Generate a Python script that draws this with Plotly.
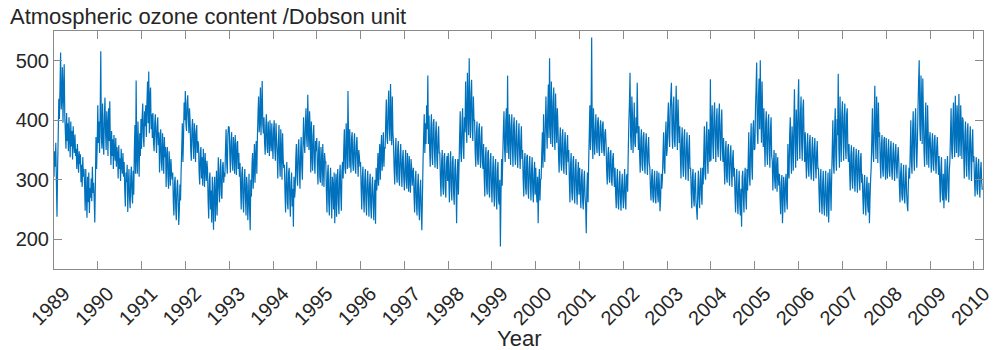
import datetime as dt
import plotly.graph_objects as go

# Ozone values (Dobson units), sampled every 5 days from 1 January of each year
y1989 = [305, 348, 322, 362, 296, 238, 318, 372, 436, 402, 455, 514, 418, 440, 489, 396, 452, 494, 408,
         378, 352, 412, 365, 395, 348, 405, 372, 338, 398, 356, 382, 334, 390, 362, 345, 376, 340,
         352, 318, 360, 334, 312, 348, 326, 343, 296, 325, 288, 338, 305, 318,
         292, 248, 318, 272, 236, 305, 262, 312, 244, 286, 270, 302, 264, 322, 278, 295, 268, 228, 292, 372, 318, 355]
y1990 = [425, 362, 398, 345, 410, 516, 372, 352, 428, 366, 342, 405, 438, 378, 350, 415, 392, 340, 420, 365, 432,
         358, 325, 382, 340, 368, 318, 375, 348, 332, 370, 322, 355, 342, 302, 358, 318, 336, 298, 352, 325, 310, 345, 305,
         330, 282, 255, 312, 296, 325, 246, 290, 318, 268, 252, 305, 322, 275, 260,
         315, 275, 352, 392, 310, 467, 335, 310, 398, 352, 305, 378, 340, 402]
y1991 = [352, 405, 428, 372, 355, 415, 390, 425, 372, 430, 465, 395, 482, 378, 440, 455, 385, 410, 370,
         412, 362, 348, 395, 410, 372, 345, 388, 405, 358, 380, 312, 365, 385, 330, 315, 378, 348, 310, 372, 338, 355,
         288, 340, 355, 305, 285, 348, 322, 290, 335, 312, 300,
         312, 262, 240, 295, 305, 252, 232, 285, 300, 270, 224, 248, 292, 265, 315, 352, 395, 330, 372, 430, 400]
y1992 = [449, 395, 382, 430, 442, 405, 378, 420, 398, 350, 332, 385, 402, 362, 335, 395, 372, 330, 380, 392, 345, 365,
         360, 312, 292, 345, 355, 302, 338, 290, 352, 325, 288, 345, 318, 298, 332,
         318, 265, 235, 298, 312, 250, 282, 228, 305, 260, 216, 290, 305, 230, 268, 315, 240, 285,
         338, 290, 262, 318, 335, 275, 268, 322, 330, 295, 312, 305, 352, 385, 328, 310, 375, 390]
y1993 = [388, 342, 312, 365, 380, 330, 315, 372, 352, 310, 375, 340, 308, 362, 365, 318, 345, 305,
         328, 285, 250, 310, 322, 265, 245, 298, 318, 272, 240, 305, 290, 232, 262, 310, 250, 215,
         300, 272, 325, 345, 285, 318, 360, 295, 338, 365, 310, 372, 410, 440, 380, 398, 455, 375, 420, 466, 392, 378,
         405, 362, 342, 390, 410, 355, 345, 398, 372, 340, 400, 365, 348, 395, 360]
y1994 = [335, 385, 400, 352, 332, 395, 368, 345, 302, 360, 392, 330, 305, 385, 348, 300, 378, 335, 320,
         325, 278, 245, 305, 330, 262, 250, 312, 320, 268, 238, 295, 312, 255, 285, 221, 305, 270,
         282, 335, 360, 305, 290, 352, 368, 315, 285, 345, 372, 322, 300, 358,
         405, 362, 345, 390, 420, 372, 355, 443, 385, 350, 415, 382, 312, 398, 345, 315, 375, 392, 330, 310, 365, 348]
y1995 = [370, 322, 292, 348, 365, 305, 295, 355, 335, 290, 360, 318, 288, 345, 330,
         330, 282, 245, 310, 325, 262, 240, 298, 320, 272, 235, 305, 290, 250, 312, 227, 280, 310, 238, 295, 318, 260,
         242, 305, 325, 275, 248, 315, 330, 302, 352, 385, 320, 310, 395, 360, 318, 449, 372, 320,
         385, 338, 312, 370, 380, 328, 315, 362, 378, 322, 310, 358, 372, 335, 305, 350, 340, 322]
y1996 = [330, 285, 250, 305, 322, 270, 245, 300, 318, 262, 240, 295, 315, 275, 238, 292, 310, 255, 235, 288, 305,
         262, 232, 280, 300, 226, 320, 282, 305, 345, 290, 332, 360, 300, 348, 375, 315, 338, 380, 322, 355,
         352, 398, 435, 372, 360, 420, 450, 385, 365, 461, 402, 358, 440, 378,
         360, 318, 292, 345, 370, 310, 295, 352, 365, 302, 290, 340, 360, 315, 288, 335, 350, 305]
y1997 = [282, 325, 350, 300, 285, 345, 318, 280, 340, 305, 278, 335, 320, 290, 312,
         320, 272, 245, 298, 315, 260, 240, 290, 310, 252, 232, 285, 300, 248, 215, 270,
         330, 372, 410, 345, 395, 360, 425, 385, 475, 360,
         408, 352, 322, 385, 410, 340, 325, 395, 402, 348, 320, 378, 398, 335, 318, 372, 390, 345,
         345, 300, 272, 330, 350, 290, 275, 338, 345, 285, 270, 325, 340, 298]
y1998 = [345, 300, 262, 325, 348, 285, 265, 330, 340, 278, 258, 318, 335, 290, 227, 305, 335, 275,
         322, 372, 415, 345, 330, 398, 420, 355, 335, 405, 380,
         465, 395, 362, 480, 420, 375, 504, 410, 370, 445, 468, 385, 365, 440, 400,
         400, 345, 322, 378, 398, 335, 325, 385, 395, 340, 320, 372, 390, 330, 318,
         360, 305, 272, 338, 355, 290, 275, 345, 350, 282, 270, 330, 345, 290]
y1999 = [262, 310, 340, 282, 255, 322, 335, 270, 250, 315, 330, 265, 258, 300, 188, 275, 335, 290,
         340, 385, 415, 352, 330, 398, 420, 345, 475, 365, 335, 410, 392, 325, 375,
         410, 355, 322, 390, 405, 345, 325, 380, 400, 338, 320, 372, 395, 345, 318, 365, 390, 335,
         350, 300, 272, 330, 345, 288, 275, 338, 342, 285, 268, 322, 340, 295, 265, 318, 338, 282, 262, 310, 330, 275]
y2000 = [320, 282, 262, 305, 227, 290, 318, 265, 300, 302, 345, 380, 320, 410, 355, 330, 395,
         440, 385, 352, 418, 460, 370, 504, 395, 360, 465, 410, 355, 430, 455, 372, 350, 445, 398, 362, 420,
         390, 340, 312, 365, 388, 330, 315, 372, 385, 325, 310, 360, 380, 335, 308, 355, 375, 330,
         350, 298, 262, 325, 345, 280, 265, 330, 340, 278, 260, 318, 335, 285, 258, 310, 330, 275]
y2001 = [320, 280, 252, 305, 318, 265, 250, 298, 315, 270, 255, 210, 285, 312, 262,
         330, 375, 425, 350, 395, 539, 372, 335, 420, 380,
         342, 380, 410, 360, 345, 398, 405, 352, 340, 388, 400, 365, 345, 392, 398, 350, 340, 378, 385,
         360, 315, 292, 340, 355, 305, 295, 345, 350, 300, 290, 335, 345, 310, 288,
         320, 275, 252, 300, 318, 262, 250, 295, 315, 268, 248, 290, 310, 270]
y2002 = [252, 290, 318, 265, 250, 305, 310, 280,
         345, 395, 430, 480, 372, 350, 440, 410, 345, 385, 430, 362, 355, 405, 378, 463, 392, 350,
         390, 340, 312, 368, 385, 325, 315, 372, 380, 330, 310, 358, 378, 335, 308, 352, 372, 328,
         320, 285, 265, 305, 318, 272, 262, 300, 315, 270, 260, 295, 315, 275, 262, 312, 290, 247, 268, 310, 285,
         302, 345, 380, 320, 310, 372, 398, 340]
y2003 = [352, 405, 430, 372, 355, 418, 440, 463, 380, 352, 425, 440, 365, 355, 410, 458, 385, 350, 435, 398, 362,
         390, 338, 302, 365, 388, 325, 305, 370, 385, 320, 300, 355, 380, 332, 298, 350, 375, 318,
         320, 280, 252, 305, 318, 268, 255, 298, 312, 262, 250, 233, 285, 315, 270, 252, 300, 320, 275, 258,
         320, 292, 345, 390, 310, 300, 372, 398, 335, 310, 385, 360, 330, 469]
y2004 = [332, 385, 425, 360, 335, 410, 430, 372, 330, 398, 420, 355, 338, 405, 428, 365, 332, 392, 418, 350, 330,
         370, 325, 292, 348, 365, 305, 295, 352, 360, 310, 290, 340, 358, 318, 288, 335, 350, 305,
         320, 275, 245, 298, 318, 262, 242, 290, 315, 258, 240, 285, 221, 305, 315, 268, 245, 300, 320, 272, 250, 318,
         282, 330, 380, 305, 290, 360, 395, 322, 300, 385, 400, 350]
y2005 = [352, 420, 455, 497, 380, 360, 440, 470, 385, 501, 415, 362, 465, 400, 355,
         420, 360, 322, 395, 415, 345, 325, 398, 410, 350, 320, 385, 405, 340, 332,
         282, 325, 350, 300, 285, 345, 320, 280, 338, 305, 290,
         310, 268, 242, 295, 308, 227, 260, 305, 280, 245, 298, 310, 265, 250,
         360, 318, 302, 375, 405, 340, 310, 390, 365, 315, 398, 452, 360, 320, 418, 385, 332, 430]
y2006 = [469, 372, 335, 410, 440, 360, 332, 420, 435, 365, 330,
         380, 335, 302, 355, 378, 320, 305, 362, 375, 318, 300, 348, 372, 330, 298, 352, 370, 325, 302, 345, 365, 318,
         320, 278, 245, 300, 318, 265, 242, 292, 315, 258, 240, 288, 315, 262, 238, 285, 312, 228, 270, 318, 290, 248,
         302, 350, 400, 325, 310, 385, 420, 340, 315, 402, 375, 478, 352, 320, 440, 380, 330, 410]
y2007 = [432, 375, 332, 405, 428, 355, 335, 410, 420, 350, 330,
         360, 315, 282, 340, 358, 300, 285, 345, 355, 298, 280, 332, 352, 305, 278, 338, 350, 300, 282, 335, 345, 295,
         310, 272, 242, 290, 308, 262, 240, 285, 305, 258, 245, 295, 227, 268, 300,
         322, 370, 420, 345, 330, 400, 458, 365, 335, 440, 395, 328, 430, 372,
         380, 330, 302, 360, 375, 318, 305, 365, 372, 320, 300]
y2008 = [370, 330, 302, 348, 368, 315, 305, 352, 365, 318, 300, 342, 362, 325, 298, 345, 360, 320, 302, 338, 355,
         330, 288, 262, 310, 328, 275, 265, 305, 325, 272, 260, 300, 325, 278, 258, 247, 295, 320,
         302, 345, 400, 330, 310, 382, 415, 340, 315, 395, 420, 355, 320,
         362, 420, 465, 501, 390, 365, 475, 430, 360, 470,
         410, 350, 322, 395, 430, 345, 325, 425, 380, 320, 365]
y2009 = [380, 342, 312, 360, 378, 325, 315, 365, 375, 330, 310, 355, 372, 338, 308,
         340, 298, 262, 318, 338, 280, 265, 310, 252, 292, 335, 270, 265, 322, 340, 285, 262, 315,
         332, 375, 420, 350, 335, 398, 430, 362, 338, 441, 385, 345, 425, 395, 338, 444, 372, 340, 425, 390, 335, 405,
         400, 345, 302, 375, 398, 330, 305, 382, 395, 325, 300, 365, 390, 335, 298, 360, 385, 330]
y2010 = [340, 300, 272, 318, 338, 285, 275, 325, 335, 290, 270, 315, 330, 295, 283]

years = list(range(1989, 2011))
series_by_year = [y1989, y1990, y1991, y1992, y1993, y1994, y1995, y1996, y1997, y1998, y1999,
                  y2000, y2001, y2002, y2003, y2004, y2005, y2006, y2007, y2008, y2009, y2010]

tick_years = list(range(1989, 2011))
tick_labels = [str(v) for v in tick_years]

x = []
y = []
for yr, vals in zip(years, series_by_year):
    start = dt.date(yr, 1, 1)
    for i, v in enumerate(vals):
        x.append(start + dt.timedelta(days=5 * i))
        y.append(v)

fig = go.Figure()
fig.add_trace(go.Scatter(x=x, y=y, mode="lines",
                         line=dict(color="#0072BD", width=1.2, simplify=False),
                         hoverinfo="skip", showlegend=False))

axis_color = "#8a8a8a"
font_family = "Liberation Sans, Arial, sans-serif"

fig.update_layout(
    width=1004, height=350,
    margin=dict(l=54, r=10, t=31, b=81),
    paper_bgcolor="white", plot_bgcolor="white",
    font=dict(family=font_family, color="#262626"),
    showlegend=False,
)

fig.update_xaxes(
    type="date",
    range=["1989-01-01", "2010-03-18"],
    tickvals=[dt.date(v, 1, 1) for v in tick_years],
    ticktext=tick_labels,
    tickangle=-45,
    ticklabelshift=10,
    ticklabelstandoff=4,
    ticklabeloverflow="allow",
    tickfont=dict(size=20, family=font_family, color="#262626"),
    ticks="inside", ticklen=8, tickcolor=axis_color, tickwidth=1,
    showline=True, linecolor=axis_color, linewidth=1, mirror="allticks",
    showgrid=False, zeroline=False,
)
fig.update_yaxes(
    range=[150, 550],
    tickvals=[200, 300, 400, 500],
    tickfont=dict(size=20, family=font_family, color="#262626"),
    ticks="inside", ticklen=8, tickcolor=axis_color, tickwidth=1,
    showline=True, linecolor=axis_color, linewidth=1, mirror="allticks",
    showgrid=False, zeroline=False,
)

fig.add_annotation(text="Atmospheric ozone content /Dobson unit",
                   xref="paper", yref="paper", x=-0.049, y=1.063,
                   xanchor="left", yanchor="middle", showarrow=False,
                   font=dict(size=22, family=font_family, color="#262626"))
fig.add_annotation(text="Year",
                   xref="paper", yref="paper", x=0.5, y=-0.29,
                   xanchor="center", yanchor="middle", showarrow=False,
                   font=dict(size=22, family=font_family, color="#262626"))

fig.write_html("out.html")
